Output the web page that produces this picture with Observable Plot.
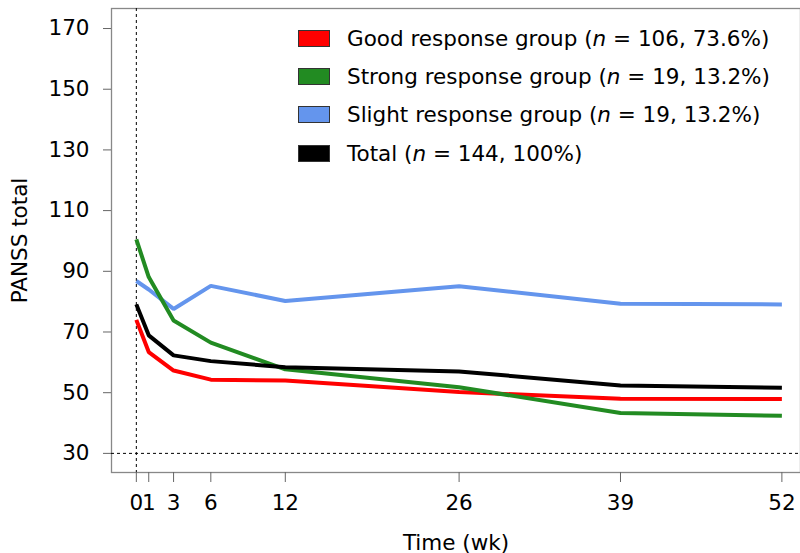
<!DOCTYPE html>
<html><head><meta charset="utf-8">
<script src="https://cdn.jsdelivr.net/npm/d3@7"></script>
<script src="https://cdn.jsdelivr.net/npm/@observablehq/plot@0.6"></script>
<style>
body{margin:0;background:#fff;}
#wrap{position:relative;width:800px;height:553px;font-family:"DejaVu Sans",Verdana,sans-serif;}
#legend{position:absolute;left:298px;top:19px;font-size:21.5px;color:#000;}
.row{display:flex;align-items:center;height:38.3px;white-space:nowrap;}
.sw{width:30px;height:15px;border:1px solid #333;margin-right:17px;}
</style></head>
<body>
<div id="wrap"><div id="chart"></div><div id="legend"></div></div>
<script>
const weeks = [0, 1, 3, 6, 12, 26, 39, 52];
const good = [74.0, 63.4, 57.3, 54.3, 54.0, 50.2, 48.0, 47.9];
const strong = [100.5, 88.1, 73.8, 66.5, 57.7, 51.8, 43.3, 42.4];
const slight = [86.8, 84.0, 77.6, 85.2, 80.2, 85.1, 79.3, 79.1];
const total = [79.1, 68.9, 62.3, 60.4, 58.4, 57.0, 52.4, 51.6];
const yTicks = [30, 50, 70, 90, 110, 130, 150, 170];
const seriesNames = ["Good response group", "Strong response group", "Slight response group", "Total"];
const seriesN = ["106, 73.6%", "19, 13.2%", "19, 13.2%", "144, 100%"];
const seriesColors = ["#ff0000", "#228b22", "#6495ed", "#000000"];
const seriesValues = [good, strong, slight, total];

const rows = [];
seriesValues.forEach((vals, i) => vals.forEach((v, j) => rows.push({week: weeks[j], value: v, series: seriesNames[i]})));
const drawOrder = [2, 0, 1, 3];

const chart = Plot.plot({
  width: 800, height: 553,
  marginLeft: 111, marginRight: 0, marginTop: 8, marginBottom: 81,
  style: {fontFamily: '"DejaVu Sans", Verdana, sans-serif', fontSize: "21.5px", color: "#000", background: "#fff"},
  x: {domain: [-2, 53.5]},
  y: {domain: [23.7, 176.6]},
  color: {domain: seriesNames, range: seriesColors},
  marks: [
    Plot.frame({stroke: "#888", strokeWidth: 1.3}),
    Plot.ruleX([0], {stroke: "#000", strokeDasharray: "3,3", strokeWidth: 1}),
    Plot.ruleY([30], {stroke: "#000", strokeDasharray: "3,3", strokeWidth: 1}),
    ...drawOrder.map(i => Plot.line(rows.filter(d => d.series === seriesNames[i]), {x: "week", y: "value", stroke: "series", strokeWidth: 4, strokeLinejoin: "miter", strokeLinecap: "butt"})),
    Plot.axisX({ticks: weeks, tickSize: 10, tickPadding: 12, stroke: "#666", label: "Time (wk)", labelAnchor: "center", labelOffset: 77, labelArrow: "none", fontSize: 21.5}),
    Plot.axisY({ticks: yTicks, tickSize: 8, tickPadding: 14, stroke: "#666", label: "PANSS total", labelAnchor: "center", labelOffset: 100, labelArrow: "none", fontSize: 21.5})
  ]
});
document.getElementById("chart").appendChild(chart);

const leg = document.getElementById("legend");
seriesNames.forEach((name, i) => {
  const r = document.createElement("div");
  r.className = "row";
  r.innerHTML = `<span class="sw" style="background:${seriesColors[i]}"></span><span>${name} (<i>n</i> = ${seriesN[i]})</span>`;
  leg.appendChild(r);
});
</script>
</body></html>
